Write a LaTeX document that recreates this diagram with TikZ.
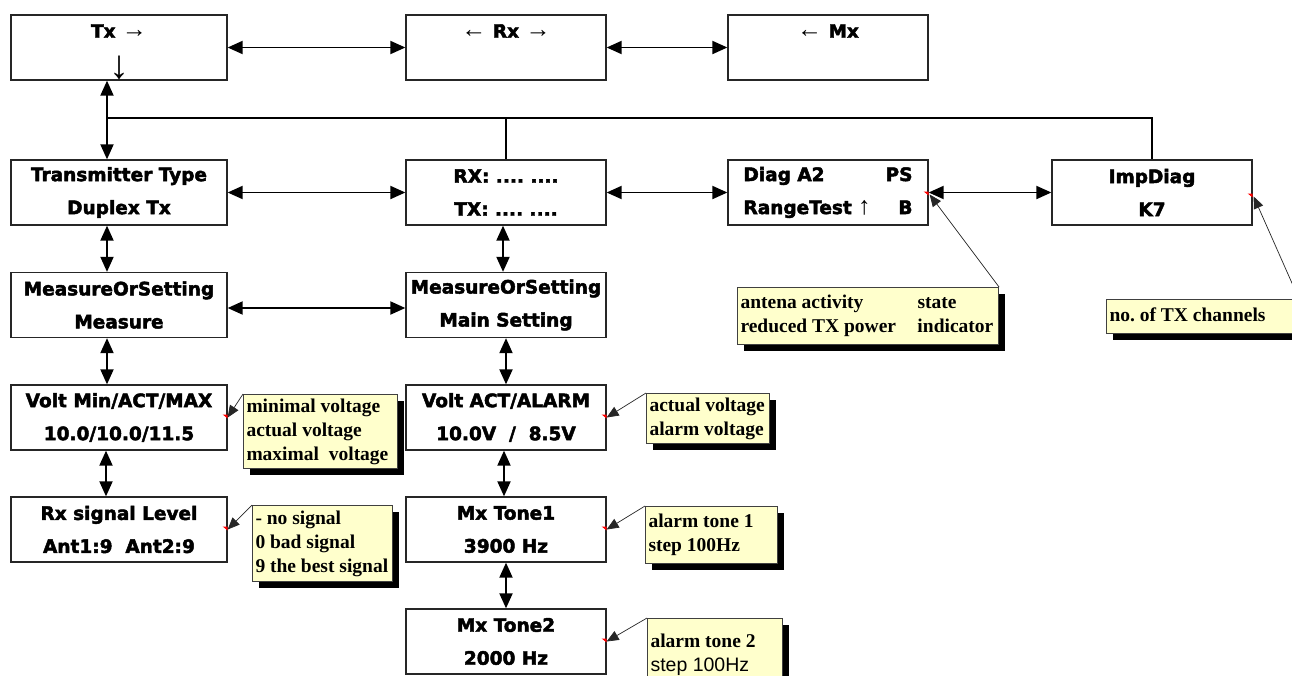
\documentclass[tikz,border=0pt]{standalone}
\usepackage{fontspec}
\usepackage{graphicx}
\usetikzlibrary{arrows.meta,calc,shadows}
\newfontfamily\boxff{DejaVu Sans}[BoldFeatures={FakeBold=2.5}]
\newfontfamily\serff{Liberation Serif}
\newfontfamily\sanff{Liberation Sans}
\definecolor{cyellow}{HTML}{FFFFCC}
\frenchspacing
\newcommand\bx[1]{#1}
\newcommand\arw[1]{{\serff\mdseries\fontsize{25}{33}\selectfont #1}}
\newcommand\arwdown{\smash{\raisebox{-8pt}{\serff\mdseries\fontsize{40}{33}\selectfont ↓}}}
\newcommand\cltext[2]{\makebox[#1][l]{\raisebox{2pt}{\begin{tabular}{@{}l@{}}#2\end{tabular}}}}
\tikzset{
  mbox/.style={draw=black!85, line width=1.3pt, fill=white, minimum height=65pt,
    inner sep=0pt, align=center, font=\boxff\bfseries\fontsize{18.5}{33}\selectfont},
  wa/.style={minimum width=216pt},
  wb/.style={minimum width=200pt},
  dbl/.style={line width=1.9pt, {Triangle[length=15pt,width=13pt]}-{Triangle[length=15pt,width=13pt]}},
  busline/.style={line width=1.4pt},
  callout/.style={draw=black!75, line width=1pt, fill=cyellow, anchor=north west,
    inner xsep=3pt, inner ysep=0pt, align=left,
    font=\serff\bfseries\fontsize{19.5}{24}\selectfont,
    drop shadow={shadow xshift=6pt, shadow yshift=-6pt, fill=black, opacity=1}},
  lead/.style={line width=0.7pt, draw=black!85, -{Triangle[length=12pt,width=10pt]}},
}
\begin{document}
\begin{tikzpicture}[x=1pt,y=-1pt]
\useasboundingbox (0,0) rectangle (1292,675);
\clip (0,0) rectangle (1292,675);
\fill[white] (0,0) rectangle (1292,675);

% main boxes
\node[mbox,wa] (tx) at (119,47.5) {\bx{Tx \arw{→}}\\\arwdown};
\node[mbox,wb] (rx) at (506,47.5) {\bx{\arw{←} Rx \arw{→}}\\\phantom{Tx}};
\node[mbox,wb] (mx) at (828,47.5) {\bx{\arw{←} Mx}\\\phantom{Tx}};

\node[mbox,wa] (ttype) at (119,192.5) {\bx{Transmitter Type}\\\bx{Duplex Tx}};
\node[mbox,wb] (rxtx) at (506,192.5) {\bx{RX: .... ....}\\\bx{TX: .... ....}};
\node[mbox,wb] (diag) at (828,192.5) {\makebox[169pt]{\bx{Diag A2}\hfill\bx{PS}}\\\makebox[169pt]{\bx{RangeTest \arw{↑}}\hfill\bx{B}}};
\node[mbox,wb] (imp) at (1152,192.5) {\bx{ImpDiag}\\\bx{K7}};

\node[mbox,wa] (meas) at (119,305) {\bx{MeasureOrSetting}\\\bx{Measure}};
\node[mbox,wb] (mset) at (506,305) {\bx{MeasureOrSetting}\\\bx{Main Setting}};

\node[mbox,wa] (vmin) at (119,417.5) {\bx{Volt Min/ACT/MAX}\\\bx{10.0/10.0/11.5}};
\node[mbox,wb] (vact) at (506,417.5) {\bx{Volt ACT/ALARM}\\\bx{10.0V\ \ /\ \ 8.5V}};

\node[mbox,wa] (rxsig) at (119,529.5) {\bx{Rx signal Level}\\\bx{Ant1:9\ \ Ant2:9}};
\node[mbox,wb] (tone1) at (506,529.5) {\bx{Mx Tone1}\\\bx{3900 Hz}};
\node[mbox,wb] (tone2) at (506,641.5) {\bx{Mx Tone2}\\\bx{2000 Hz}};

% horizontal double arrows
\draw[dbl] (tx.east) -- (rx.west);
\draw[dbl] (rx.east) -- (mx.west);
\draw[dbl] (ttype.east) -- (rxtx.west);
\draw[dbl] (rxtx.east) -- (diag.west);
\draw[dbl] (diag.east) -- (imp.west);
\draw[dbl] ($(meas.east)+(0,3)$) -- ($(mset.west)+(0,3)$);

% vertical double arrows, left column
\draw[dbl] ($(tx.south)+(-12,0)$) -- ($(ttype.north)+(-12,0)$);
\draw[dbl] ($(ttype.south)+(-12,0)$) -- ($(meas.north)+(-12,0)$);
\draw[dbl] ($(meas.south)+(-12,0)$) -- ($(vmin.north)+(-12,0)$);
\draw[dbl] ($(vmin.south)+(-13,0)$) -- ($(rxsig.north)+(-13,0)$);
% vertical double arrows, middle column
\draw[dbl] ($(rxtx.south)+(-3,0)$) -- ($(mset.north)+(-3,0)$);
\draw[dbl] (mset.south) -- (vact.north);
\draw[dbl] ($(vact.south)+(-2,0)$) -- ($(tone1.north)+(-2,0)$);
\draw[dbl] (tone1.south) -- (tone2.north);

% bus line
\coordinate (bus) at (107,118);
\draw[busline] (bus) -| (imp.north);
\draw[busline] (bus -| rxtx.north) -- (rxtx.north);

% callouts
\node[callout, minimum width=154pt, minimum height=74pt] (c1) at (243,394)
  {\cltext{148pt}{minimal voltage\\actual voltage\\maximal\ \ voltage}};
\node[callout, minimum width=140pt, minimum height=76pt] (c2) at (252,505)
  {\cltext{134pt}{- no signal\\0 bad signal\\9 the best signal}};
\node[callout, minimum width=123pt, minimum height=50pt] (c3) at (646,393)
  {\cltext{117pt}{actual voltage\\alarm voltage}};
\node[callout, minimum width=132pt, minimum height=57pt] (c4) at (645,506)
  {\cltext{126pt}{alarm tone 1\\step 100Hz}};
\node[callout, minimum width=135pt, minimum height=72pt] (c5) at (647,618)
  {\cltext{129pt}{alarm tone 2\\{\sanff\mdseries step 100Hz}}};
\node[callout, minimum width=261pt, minimum height=57pt] (c6) at (737,287)
  {\cltext{255pt}{\makebox[177pt][l]{antena activity}state\\\makebox[177pt][l]{reduced TX power}indicator}};
\node[callout, minimum width=192pt, minimum height=34pt] (c7) at (1106,299)
  {\cltext{186pt}{no. of TX channels}};

% leaders
\draw[lead] (c1.north west) -- (vmin.east);
\draw[lead] (c2.north west) -- (rxsig.east);
\draw[lead] (c3.north west) -- (vact.east);
\draw[lead] (c4.north west) -- (tone1.east);
\draw[lead] (c5.north west) -- (tone2.east);
\draw[lead] (c6.north east) -- ($(diag.east)+(1,2)$);
\draw[lead] (c7.north east) -- ($(imp.east)+(1,4)$);

% red marks
\foreach \n/\dy in {vmin/0,rxsig/0,vact/0,tone1/0,tone2/0,diag/2,imp/4}{
  \fill[red] ($(\n.east)+(-5,\dy-3)$) -- ($(\n.east)+(0,\dy-3)$) -- ($(\n.east)+(0,\dy+1)$) -- cycle;
}
\end{tikzpicture}
\end{document}
